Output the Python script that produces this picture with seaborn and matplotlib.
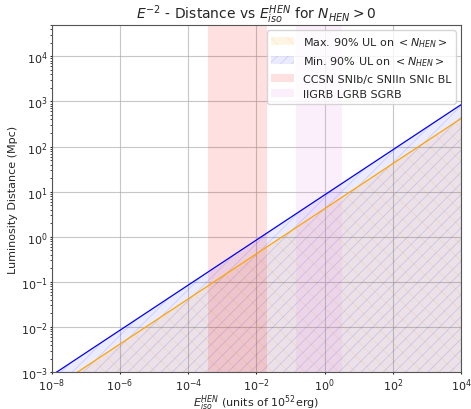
import numpy as np
import pandas as pd
import matplotlib
matplotlib.use("Agg")
import matplotlib.pyplot as plt
import seaborn as sns

# Data
E_iso = [1e-8, 1e4]                 # units of 1e52 erg
D_min_UL = [8.5e-4, 850.0]          # Mpc, "Min. 90% UL" (blue)
D_max_UL = [4.2e-4, 420.0]          # Mpc, "Max. 90% UL" (orange)
ccsn_range = [3.9e-4, 2.1e-2]
grb_range = [0.145, 3.2]
labels = ["Max. 90% UL on $<N_{HEN}>$", "Min. 90% UL on $<N_{HEN}>$",
          "CCSN SNIb/c SNIIn SNIc BL", "llGRB LGRB SGRB"]

sns.set_style("ticks")
plt.rcParams['font.family'] = ['DejaVu Sans']
plt.rcParams['hatch.linewidth'] = 0.6

fig = plt.figure(figsize=(4.71, 4.10), dpi=100)
ax = fig.add_axes([0.110, 0.090, 0.869, 0.847])

df = pd.DataFrame({"E": E_iso, "Dmin": D_min_UL, "Dmax": D_max_UL})
ymin = 1e-3

h_max = ax.fill_between(df["E"], ymin * 1e-3, df["Dmax"], facecolor=(1.0, 0.65, 0.0, 0.10),
                        edgecolor=(1.0, 0.65, 0.0, 0.12), hatch="\\\\", linewidth=0, label=labels[0])
h_min = ax.fill_between(df["E"], ymin * 1e-3, df["Dmin"], facecolor=(0.0, 0.0, 1.0, 0.08),
                        edgecolor=(0.0, 0.0, 1.0, 0.13), hatch="///", linewidth=0, label=labels[1])
sns.lineplot(data=df, x="E", y="Dmin", ax=ax, color="blue", linewidth=0.9)
sns.lineplot(data=df, x="E", y="Dmax", ax=ax, color="orange", linewidth=0.9)

h_cc = ax.axvspan(ccsn_range[0], ccsn_range[1], color="red", alpha=0.12, linewidth=0, label=labels[2])
h_grb = ax.axvspan(grb_range[0], grb_range[1], color="violet", alpha=0.12, linewidth=0, label=labels[3])

ax.set_xscale("log")
ax.set_yscale("log")
ax.set_xlim(1e-8, 1e4)
ax.set_ylim(1e-3, 5e4)
ax.set_xticks([1e-8, 1e-6, 1e-4, 1e-2, 1e0, 1e2, 1e4])
ax.grid(True, which="major", color="#b0b0b0", linewidth=0.8, alpha=0.7)
ax.tick_params(labelsize=8, length=1.5, pad=1.5)
ax.tick_params(which="minor", length=1.2)
for s in ax.spines.values():
    s.set_color("#555555")

ax.set_title(r"$E^{-2}$ - Distance vs $E_{iso}^{HEN}$ for $N_{HEN} > 0$", fontsize=10, pad=4)
ax.set_xlabel(r"$E_{iso}^{HEN}$ (units of $10^{52}$erg)", fontsize=8, labelpad=0)
ax.set_ylabel("Luminosity Distance (Mpc)", fontsize=8, labelpad=2)

ax.legend(handles=[h_max, h_min, h_cc, h_grb], labels=labels, loc="upper right", fontsize=8,
          framealpha=0.8)

fig.savefig("out.png", dpi=100)
